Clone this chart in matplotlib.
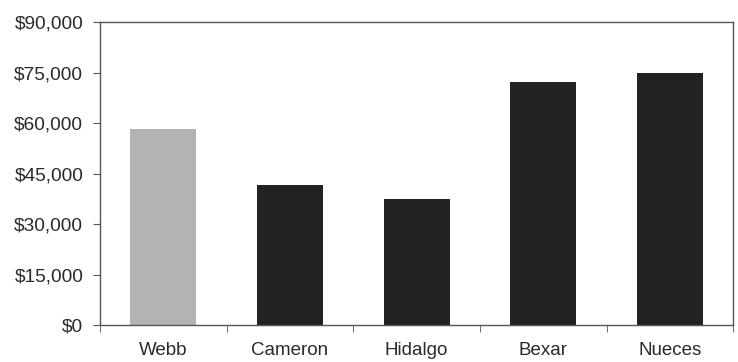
import matplotlib
matplotlib.use('Agg')
from matplotlib import pyplot as plt
from matplotlib.ticker import FuncFormatter
import numpy as np

# County values
counties = ['Webb', 'Cameron', 'Hidalgo', 'Bexar', 'Nueces']
values = [58300, 41500, 37400, 72300, 75000]
bar_colors = ['#b3b3b3', '#222222', '#222222', '#222222', '#222222']
y_ticks = [0, 15000, 30000, 45000, 60000, 75000, 90000]

plt.rcParams['font.family'] = ['Liberation Sans', 'DejaVu Sans']

fig = plt.figure(figsize=(7.38, 3.62), dpi=100)
ax = fig.add_axes([0.1355, 0.102, 0.858, 0.837])

x = np.arange(len(counties))
ax.bar(x, values, width=0.52, color=bar_colors, edgecolor='none')

ax.set_xlim(-0.5, len(counties) - 0.5)
ax.set_ylim(0, 90000)
ax.set_yticks(y_ticks)
ax.yaxis.set_major_formatter(FuncFormatter(lambda v, p: '${:,.0f}'.format(v)))

# category labels centred, tick marks between categories
ax.set_xticks(x)
ax.set_xticklabels(counties)
ax.tick_params(axis='x', which='major', length=0, pad=12, labelsize=13.5, colors='#2a2a2a')
ax.set_xticks(np.arange(-0.5, len(counties)), minor=True)
ax.tick_params(axis='x', which='minor', length=5, direction='out', color='#555555')
ax.tick_params(axis='y', length=5, direction='out', color='#555555', labelsize=13.8,
               labelcolor='#2a2a2a', pad=7)

for s in ax.spines.values():
    s.set_color('#555555')
    s.set_linewidth(1.0)

plt.savefig('out.png', dpi=100)
